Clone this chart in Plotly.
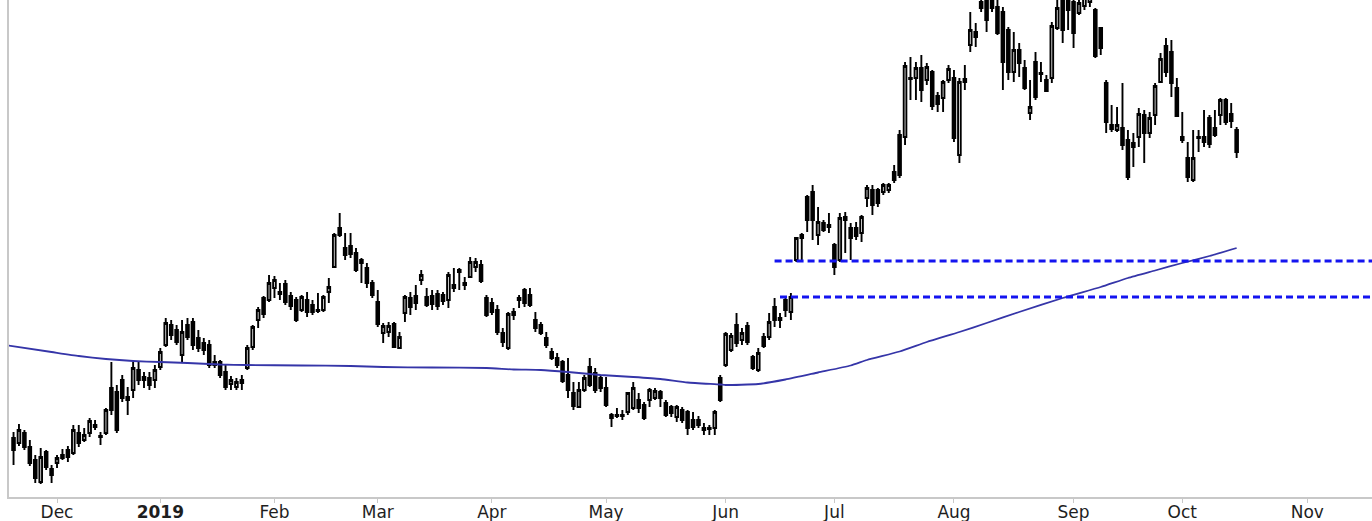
import pandas as pd
import plotly.graph_objects as go

# ---------------- data ----------------
holidays = ["2018-11-22", "2018-12-05", "2018-12-25", "2019-01-01", "2019-01-21",
            "2019-02-18", "2019-04-19", "2019-05-27", "2019-07-04", "2019-09-02"]
dates = pd.bdate_range("2018-11-20", "2019-10-15", freq="C", holidays=holidays)

opens = [
    16.2, 15.7, 16.7, 15.3, 14.0, 11.8, 14.8, 13.1,  # Nov
    13.7, 14.5, 15.0, 14.7, 16.7, 16.0, 16.7, 17.5, 16.4, 16.7, 21.2, 20.8, 22.0, 20.3, 21.0, 23.0, 22.0, 22.2, 22.0,  # Dec
    23.3, 25.5, 27.5, 27.0, 24.5, 27.5, 27.8, 26.2, 25.7, 25.5, 23.8, 23.8, 22.8, 21.6, 21.3, 21.7, 23.2, 25.3, 28.0, 30.2, 30.0,  # Jan
    31.2, 30.8, 31.6, 30.4, 30.0, 29.0, 30.0, 29.5, 29.0, 29.0, 30.8, 33.3, 37.2, 35.2, 35.4, 34.7, 33.7, 33.2, 31.7,  # Feb
    29.8, 26.7, 26.8, 27.6, 25.2, 28.7, 30.2, 30.4, 32.0, 30.3, 30.4, 30.6, 30.5, 30.0, 31.2, 32.8, 31.5, 32.3, 33.3, 33.5, 30.2,  # Mar
    29.7, 29.0, 26.7, 25.2, 28.5, 30.0, 31.0, 30.5, 28.0, 27.5, 26.2, 24.8, 24.2, 23.8, 22.5, 20.7, 19.3, 21.0, 23.3, 22.7, 22.2,  # Apr
    21.2, 18.5, 18.5, 18.4, 18.8, 19.2, 20.0, 19.5, 20.0, 20.2, 20.8, 19.7, 19.3, 18.3, 19.0, 18.8, 18.0, 18.0, 17.2, 17.1, 17.2, 22.2,  # May
    23.5, 25.0, 27.5, 26.0, 27.4, 24.3, 23.0, 26.3, 26.3, 29.3, 28.2, 30.0, 28.8, 34.0, 36.2, 40.3, 40.8, 36.5, 37.7, 37.5,  # Jun
    35.5, 34.0, 38.0, 37.2, 37.2, 36.7, 40.2, 41.0, 41.0, 40.8, 41.0, 42.8, 46.5, 46.3, 52.1, 52.2, 53.2, 52.0, 52.8, 50.4, 50.2, 52.0,  # Jul
    52.2, 44.5, 51.8, 55.5, 56.8, 59.8, 60.0, 60.3, 59.3, 58.8, 57.0, 52.8, 55.0, 53.2, 48.7, 53.8, 52.6, 52.0, 52.2, 57.2, 60.0, 60.5,  # Aug
    59.8, 58.7, 59.4, 59.8, 59.0, 57.2, 51.7, 47.5, 47.0, 47.2, 46.0, 45.7, 46.3, 48.5, 46.7, 48.5, 51.8, 55.4, 54.8, 51.2,  # Sep
    46.0, 44.2, 42.0, 46.2, 46.3, 48.2, 47.2, 48.5, 50.0, 48.6, 47.0,  # Oct
]
highs = [
    16.8, 17.6, 17.0, 16.0, 14.5, 15.2, 15.0, 13.5,
    14.5, 15.1, 15.4, 17.5, 17.5, 17.2, 18.2, 18.0, 16.8, 19.2, 23.8, 21.5, 22.5, 21.3, 23.8, 23.8, 22.8, 22.8, 23.5,
    25.2, 28.2, 28.0, 27.5, 28.0, 28.2, 28.2, 27.0, 26.2, 26.0, 24.5, 24.0, 23.5, 22.4, 22.2, 22.5, 25.5, 27.5, 29.3, 30.4, 32.5,
    32.4, 31.7, 32.0, 30.8, 30.3, 30.5, 30.8, 30.0, 30.7, 30.5, 32.2, 36.7, 38.7, 36.7, 36.7, 35.2, 34.2, 33.7, 32.0,
    31.0, 27.7, 27.8, 27.8, 26.8, 30.5, 30.8, 31.5, 33.0, 31.2, 31.0, 31.0, 30.8, 32.8, 33.2, 33.2, 32.3, 34.3, 34.2, 34.0, 30.5,
    30.2, 29.5, 27.2, 28.8, 29.2, 30.5, 31.2, 31.2, 28.8, 27.8, 26.8, 25.2, 24.7, 24.0, 24.2, 21.8, 21.8, 22.5, 24.2, 23.2, 22.5,
    22.3, 18.7, 19.2, 19.0, 20.8, 21.8, 20.7, 19.8, 21.2, 21.2, 21.0, 20.0, 19.5, 19.5, 19.3, 19.0, 18.8, 18.4, 17.7, 17.5, 19.0, 22.5,
    26.8, 26.7, 28.7, 27.2, 27.8, 24.5, 25.2, 26.7, 28.7, 30.2, 28.7, 30.3, 30.7, 36.3, 36.7, 40.5, 41.5, 39.3, 38.0, 38.7,
    35.7, 38.7, 38.8, 37.7, 37.8, 38.5, 41.5, 41.5, 41.2, 41.7, 41.7, 43.5, 47.0, 53.8, 54.3, 53.8, 54.5, 53.7, 53.0, 50.8, 52.0, 53.5,
    53.0, 52.2, 53.5, 58.8, 57.7, 60.8, 60.6, 60.8, 60.0, 59.3, 57.3, 56.8, 55.7, 54.0, 52.0, 54.8, 53.8, 52.5, 57.8, 60.0, 60.5, 61.0,
    60.5, 60.2, 60.8, 61.0, 59.2, 57.3, 52.0, 49.5, 49.3, 51.7, 47.0, 46.7, 49.2, 49.0, 48.8, 51.7, 54.7, 56.2, 56.0, 52.2,
    48.8, 45.8, 47.0, 47.0, 49.0, 48.5, 49.0, 50.2, 50.2, 49.7, 47.3,
]
lows = [
    13.5, 15.4, 15.0, 13.4, 11.7, 11.6, 13.0, 11.7,
    13.2, 14.0, 13.8, 14.5, 15.3, 15.8, 16.3, 17.0, 15.5, 16.5, 18.5, 16.7, 19.8, 18.5, 20.2, 21.5, 21.2, 21.0, 21.2,
    23.0, 25.3, 26.0, 25.5, 23.8, 26.0, 25.0, 24.8, 24.5, 23.2, 23.2, 22.2, 21.0, 21.0, 21.0, 21.0, 23.0, 25.0, 27.2, 28.2, 29.8,
    30.2, 30.0, 29.5, 29.0, 27.8, 28.8, 28.3, 28.5, 28.7, 28.8, 29.7, 33.2, 36.3, 34.0, 34.2, 32.8, 31.7, 31.2, 30.2,
    27.3, 25.7, 26.3, 25.2, 25.1, 27.8, 28.5, 29.0, 31.5, 29.3, 29.0, 29.0, 29.5, 29.2, 30.8, 31.0, 31.0, 32.2, 32.8, 31.7, 28.3,
    28.5, 26.5, 25.3, 25.0, 28.0, 29.2, 29.3, 29.3, 26.8, 26.5, 25.2, 24.0, 23.2, 21.7, 20.2, 19.0, 19.2, 20.8, 21.3, 20.7, 20.8,
    19.3, 17.3, 18.2, 18.0, 18.5, 19.0, 18.7, 18.0, 19.3, 20.0, 19.3, 18.3, 18.3, 17.8, 17.7, 16.5, 17.0, 17.2, 16.5, 16.5, 16.5, 19.8,
    23.3, 24.8, 25.3, 25.5, 25.5, 23.0, 22.8, 25.2, 26.0, 27.3, 27.2, 28.3, 28.0, 33.8, 34.0, 36.8, 36.0, 35.5, 36.8, 36.7,
    32.5, 33.8, 34.7, 34.0, 36.0, 35.8, 39.3, 38.5, 39.3, 40.5, 40.7, 41.7, 42.2, 45.5, 50.0, 50.0, 49.8, 51.5, 49.0, 48.8, 48.8, 51.7,
    45.8, 43.7, 51.0, 54.8, 55.3, 58.8, 56.8, 58.8, 56.5, 51.0, 52.0, 51.8, 52.3, 51.0, 48.0, 50.0, 51.8, 50.8, 51.7, 57.0, 55.7, 57.0,
    55.2, 58.5, 59.0, 59.3, 54.2, 54.5, 46.7, 46.8, 46.8, 45.0, 42.0, 43.3, 45.3, 43.7, 46.2, 47.5, 51.7, 52.3, 50.3, 48.3,
    45.7, 41.8, 41.8, 44.8, 45.3, 45.2, 46.3, 47.5, 47.5, 47.2, 44.2,
]
closes = [
    15.0, 17.0, 15.3, 13.7, 12.2, 14.3, 13.3, 12.5,
    14.2, 14.2, 14.3, 17.0, 15.7, 16.5, 17.9, 17.3, 16.3, 19.0, 19.0, 17.0, 20.2, 20.0, 23.2, 22.0, 22.3, 21.5, 23.0,
    24.8, 27.7, 26.5, 25.8, 26.8, 26.3, 25.5, 25.2, 25.0, 23.5, 23.5, 22.5, 21.3, 22.0, 21.8, 22.0, 25.2, 27.3, 29.0, 28.6, 31.7,
    32.0, 30.6, 29.8, 29.4, 28.0, 30.3, 28.8, 28.8, 28.9, 30.3, 31.3, 36.5, 36.5, 34.5, 34.6, 33.0, 34.0, 31.7, 30.5,
    27.6, 27.4, 27.4, 25.3, 26.3, 30.3, 29.3, 29.7, 32.5, 29.5, 29.6, 29.4, 29.9, 32.5, 31.5, 33.0, 31.7, 33.8, 33.8, 31.9, 28.5,
    28.8, 26.8, 25.8, 28.6, 28.8, 30.2, 29.7, 29.5, 27.2, 26.7, 25.5, 24.2, 23.5, 21.9, 21.0, 19.4, 21.0, 22.2, 21.5, 21.0, 21.2,
    19.5, 18.2, 18.4, 18.5, 20.7, 21.2, 19.2, 18.2, 21.0, 20.9, 20.2, 18.5, 18.7, 19.3, 18.0, 17.2, 17.3, 17.5, 17.0, 17.2, 18.8, 20.0,
    26.6, 26.4, 25.7, 26.7, 25.8, 23.2, 24.7, 25.4, 27.8, 28.0, 28.0, 29.0, 30.3, 36.2, 36.5, 38.0, 38.0, 37.8, 37.0, 37.3,
    33.3, 38.2, 38.3, 36.2, 36.4, 38.3, 41.2, 39.5, 39.7, 41.5, 41.5, 42.0, 42.5, 53.4, 52.2, 53.2, 51.0, 53.3, 49.4, 49.6, 51.8, 53.1,
    46.2, 51.8, 52.1, 57.0, 56.3, 59.2, 58.0, 59.2, 56.7, 53.8, 52.8, 55.0, 53.7, 51.2, 49.3, 50.3, 52.7, 50.9, 57.4, 59.2, 57.0, 59.0,
    56.7, 59.7, 60.3, 60.5, 54.4, 55.2, 47.8, 47.1, 47.5, 45.5, 42.3, 45.3, 48.6, 46.7, 48.2, 51.4, 54.1, 52.8, 51.7, 48.4,
    46.3, 42.3, 44.2, 46.3, 45.8, 45.6, 46.5, 50.0, 47.8, 47.9, 44.8,
]

ma_dates = ["2018-11-19", "2018-11-30", "2018-12-10", "2018-12-17", "2018-12-24", "2019-01-02",
            "2019-01-09", "2019-01-17", "2019-01-25", "2019-02-08", "2019-02-22", "2019-03-04",
            "2019-03-15", "2019-03-29", "2019-04-05", "2019-04-12", "2019-04-22", "2019-04-30",
            "2019-05-08", "2019-05-15", "2019-05-22", "2019-05-31", "2019-06-03", "2019-06-11",
            "2019-06-18", "2019-06-26", "2019-07-05", "2019-07-10", "2019-07-18", "2019-07-25",
            "2019-08-02", "2019-08-09", "2019-08-19", "2019-08-29", "2019-09-10", "2019-09-17",
            "2019-09-24", "2019-10-01", "2019-10-08", "2019-10-15"]
ma_values = [25.45, 24.8, 24.4, 24.1, 23.9, 23.8,
             23.7, 23.55, 23.5, 23.45, 23.4, 23.3,
             23.25, 23.2, 23.05, 23.0, 22.8, 22.5,
             22.3, 22.1, 21.75, 21.55, 21.5, 21.6,
             22.05, 22.75, 23.45, 24.0, 24.85, 25.8,
             26.8, 27.7, 28.8, 30.2, 31.3, 32.2,
             32.95, 33.7, 34.4, 35.2]

gap_levels = [33.9, 30.3]
gap_starts = ["2019-06-14", "2019-06-17"]
gap_end = "2019-11-29"

tick_dates = ["2018-12-03", "2019-01-02", "2019-02-01", "2019-03-01", "2019-04-01", "2019-05-01",
              "2019-06-03", "2019-07-01", "2019-08-01", "2019-09-03", "2019-10-01", "2019-11-01"]
tick_labels = ["Dec", "<b>2019</b>", "Feb", "Mar", "Apr", "May", "Jun", "Jul", "Aug", "Sep", "Oct", "Nov"]

# ---------------- figure ----------------
fig = go.Figure()

fig.add_trace(go.Scatter(
    x=ma_dates, y=ma_values, mode="lines",
    line=dict(color="#3535a8", width=1.8, shape="spline", smoothing=0.5), hoverinfo="skip"))

for lvl, start in zip(gap_levels, gap_starts):
    fig.add_trace(go.Scatter(
        x=[start, gap_end], y=[lvl, lvl], mode="lines",
        line=dict(color="#1414f0", width=3, dash="7px,4px"), hoverinfo="skip"))

fig.add_trace(go.Candlestick(
    x=dates, open=opens, high=highs, low=lows, close=closes,
    increasing=dict(line=dict(color="black", width=1.9), fillcolor="white"),
    decreasing=dict(line=dict(color="black", width=1.9), fillcolor="black"),
    whiskerwidth=0))

axis_gray = "#c8c8c8"
fig.update_layout(
    template="none",
    width=1372, height=521,
    margin=dict(l=9, r=0, t=0, b=24),
    paper_bgcolor="white", plot_bgcolor="white",
    showlegend=False,
    xaxis=dict(
        type="date",
        range=["2018-11-19 04:00", "2019-11-18 21:36"],
        rangebreaks=[dict(bounds=["sat", "mon"]), dict(values=holidays)],
        rangeslider=dict(visible=False),
        tickmode="array", tickvals=tick_dates, ticktext=tick_labels,
        ticks="outside", ticklen=4, tickwidth=1, tickcolor=axis_gray,
        ticklabelstandoff=-5,
        showline=True, linecolor=axis_gray, linewidth=2,
        showgrid=False, zeroline=False, automargin=False, tickangle=0,
        tickfont=dict(family="DejaVu Sans", size=17, color="#1e1e1e"),
    ),
    yaxis=dict(
        range=[10.3, 60.0],
        showline=True, linecolor=axis_gray, linewidth=2,
        showticklabels=False, ticks="", showgrid=False, zeroline=False,
        automargin=False,
    ),
)

fig.write_html("out.html", config={"displayModeBar": False},
               post_script="document.body.style.margin='0px';")
